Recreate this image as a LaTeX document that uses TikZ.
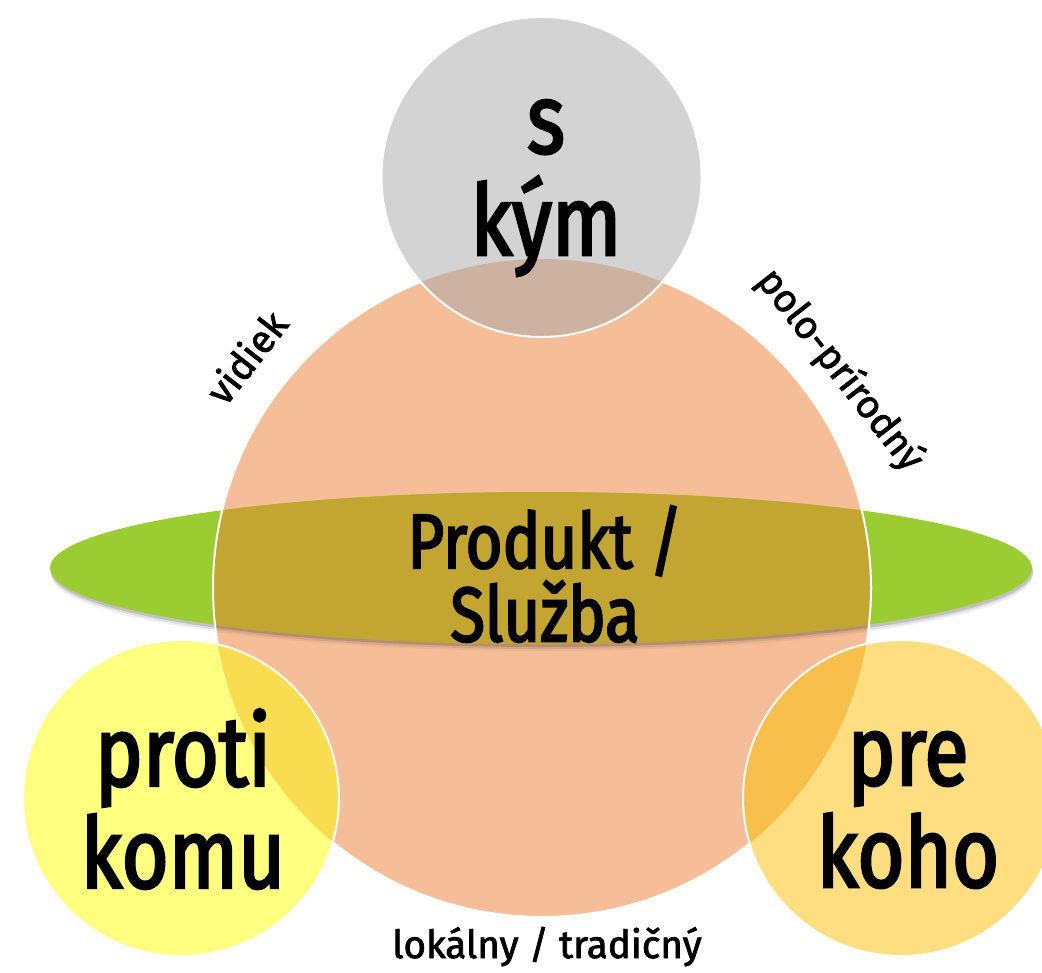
\documentclass[tikz,border=0pt]{standalone}
\usepackage{fontspec}
\setmainfont{Fira Sans}
\newfontfamily\condfont[FakeStretch=0.82,FakeBold=2.6]{Fira Sans}
\newfontfamily\smallfont[FakeBold=2]{Fira Sans}
\definecolor{peach}{RGB}{246,190,152}
\definecolor{leafgreen}{RGB}{155,205,50}
\definecolor{olivemix}{RGB}{195,165,50}
\definecolor{lgray}{RGB}{211,211,211}
\definecolor{graymix}{RGB}{206,178,161}
\definecolor{lyellow}{RGB}{255,255,128}
\definecolor{yellowmix}{RGB}{249,220,80}
\definecolor{lorange}{RGB}{254,222,128}
\definecolor{orangemix}{RGB}{248,191,76}
\tikzset{
  bigtext/.style={font=\condfont\fontsize{74}{76.5}\selectfont, align=center, inner sep=0pt, text=black},
  midtext/.style={font=\condfont\fontsize{58}{55}\selectfont, align=center, inner sep=0pt, text=black},
  smalltext/.style={font=\smallfont\fontsize{29}{32}\selectfont, inner sep=0pt, text=black},
  rim/.style={draw=white, line width=1.5pt}
}
\begin{document}
\begin{tikzpicture}[x=0.75pt,y=-0.75pt]
\useasboundingbox (0,0) rectangle (1042,972);
\clip (0,0) rectangle (1042,972);
% central circle
\fill[peach] (542,588) circle[radius=246.75pt];
% shadow of the ellipse
\foreach \d/\o in {7/0.05,5/0.08,3/0.14}{
  \fill[black,opacity=\o] (542,{568+\d}) ellipse[x radius=368.25pt, y radius=57pt];
}
% green ellipse
\fill[leafgreen] (541,568) ellipse[x radius=368.25pt, y radius=57pt];
\begin{scope}
  \clip (542,588) circle[radius=246.75pt];
  \fill[olivemix] (541,568) ellipse[x radius=368.25pt, y radius=57pt];
\end{scope}
\draw[rim] (542,588) circle[radius=246.75pt];
% top gray circle
\fill[lgray] (541.5,177) circle[radius=120pt];
\begin{scope}
  \clip (542,588) circle[radius=246.75pt];
  \fill[graymix] (541.5,177) circle[radius=120pt];
\end{scope}
\draw[rim] (541.5,177) circle[radius=120pt];
% left yellow circle
\fill[lyellow] (181,798) circle[radius=118.5pt];
\begin{scope}
  \clip (542,588) circle[radius=246.75pt];
  \fill[yellowmix] (181,798) circle[radius=118.5pt];
\end{scope}
\draw[rim] (181,798) circle[radius=118.5pt];
% right orange circle
\fill[lorange] (901,798) circle[radius=118.5pt];
\begin{scope}
  \clip (542,588) circle[radius=246.75pt];
  \fill[orangemix] (901,798) circle[radius=118.5pt];
\end{scope}
\draw[rim] (901,798) circle[radius=118.5pt];
% texts
\node[bigtext] (skym) at (546,188) {s\\kým};
\node[bigtext] (proti) at (183,799) {proti\\komu};
\node[bigtext] (prekoho) at (908,810) {pre\\koho};
\node[midtext] (produkt) at (545,574) {Produkt /\\Služba};
\node[smalltext, anchor=base] (lokal) at (547,958) {lokálny / tradičný};
\node[smalltext, rotate=52] (vidiek) at (246,357) {vidiek};
\node[smalltext, rotate=-52] (polo) at (840,370) {polo-prírodný};
\end{tikzpicture}
\end{document}
